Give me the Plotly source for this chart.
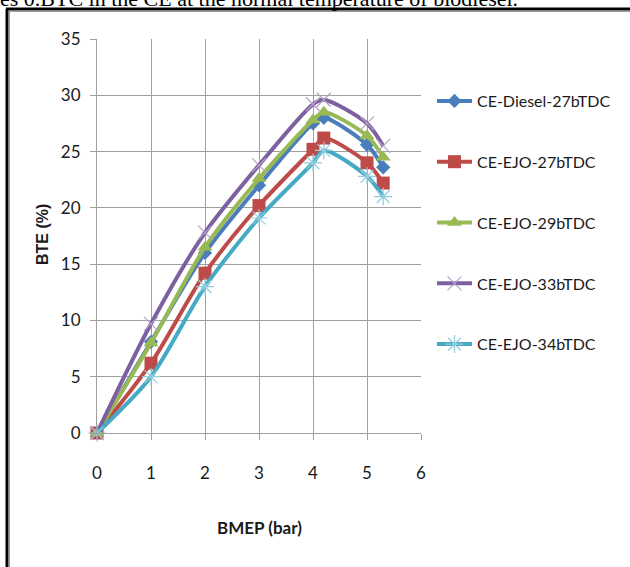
import plotly.graph_objects as go

# Data
bmep = [0, 1, 2, 3, 4, 4.2, 5, 5.3]
diesel_27 = [0, 8.1, 16.0, 22.0, 27.5, 28.0, 25.6, 23.6]
ejo_27 = [0, 6.2, 14.2, 20.2, 25.2, 26.2, 24.0, 22.2]
ejo_29 = [0, 8.0, 16.5, 22.6, 27.8, 28.5, 26.4, 24.5]
ejo_33 = [0, 9.7, 17.8, 23.8, 29.2, 29.6, 27.5, 25.5]
ejo_34 = [0, 5.0, 13.0, 19.1, 24.0, 25.1, 22.8, 21.0]

names = ["CE-Diesel-27bTDC", "CE-EJO-27bTDC", "CE-EJO-29bTDC",
         "CE-EJO-33bTDC", "CE-EJO-34bTDC"]
series = [diesel_27, ejo_27, ejo_29, ejo_33, ejo_34]
x_ticks = [0, 1, 2, 3, 4, 5, 6]
y_ticks = [0, 5, 10, 15, 20, 25, 30, 35]

line_colors = ["#4A7EBB", "#BE4B48", "#98B954", "#7D60A0", "#46AAC5"]
marker_styles = [
    dict(symbol="diamond", size=11, color="#4A7EBB"),
    dict(symbol="square", size=13, color="#BE4B48"),
    dict(symbol="triangle-up", size=13, color="#98B954"),
    dict(symbol="x-thin-open", size=14, color="#B3A2C7", line=dict(width=1.2, color="#A08BC0")),
    dict(symbol="asterisk-open", size=15, color="#93CDDD", line=dict(width=1.2, color="#7CC3D8")),
]

W, H = 630, 567
L, R, T, B = 97, 209, 39, 134
PW, PH = W - L - R, H - T - B


def px_x(p):
    return (p - L) / PW


def px_y(p):
    return (H - B - p) / PH


fig = go.Figure()
for i, (nm, ys) in enumerate(zip(names, series)):
    fig.add_trace(go.Scatter(
        x=bmep, y=ys, name=nm, mode="lines+markers",
        line=dict(color=line_colors[i], width=4, shape="spline", smoothing=0.8),
        marker=marker_styles[i], cliponaxis=False, legendgroup=nm,
    ))

font_narrow = "Lato, Liberation Sans, sans-serif"

fig.update_layout(
    width=W, height=H,
    margin=dict(l=L, r=R, t=T, b=B, autoexpand=False),
    paper_bgcolor="white", plot_bgcolor="white",
    font=dict(family=font_narrow, size=17, color="#1a1a1a"),
    showlegend=True,
    legend=dict(
        x=px_x(432), y=px_y(84), xanchor="left", yanchor="top",
        traceorder="grouped", tracegroupgap=37,
        font=dict(family=font_narrow, size=16, color="#1a1a1a"),
        bgcolor="rgba(0,0,0,0)", itemwidth=35,
    ),
    xaxis=dict(
        range=[0, 6], tickvals=x_ticks, showgrid=True, gridcolor="#A0A0A0", gridwidth=1,
        showline=True, linecolor="#A0A0A0", linewidth=1, zeroline=False,
        ticks="outside", ticklen=6, tickcolor="#A0A0A0",
        ticklabelstandoff=19, tickfont=dict(size=17, family=font_narrow),
        mirror=False,
    ),
    yaxis=dict(
        range=[0, 35], tickvals=y_ticks, showgrid=True, gridcolor="#A0A0A0", gridwidth=1,
        showline=True, linecolor="#A0A0A0", linewidth=1, zeroline=False,
        ticks="outside", ticklen=6, tickcolor="#A0A0A0",
        ticklabelstandoff=6, tickfont=dict(size=17, family=font_narrow),
    ),
    annotations=[
        dict(text="<b>BMEP (bar)</b>", xref="paper", yref="paper",
             x=px_x(259), y=px_y(527), xanchor="center", yanchor="middle",
             showarrow=False, font=dict(size=17, family=font_narrow, color="#1a1a1a")),
        dict(text="<b>BTE (%)</b>", xref="paper", yref="paper",
             x=px_x(42), y=px_y(235), xanchor="center", yanchor="middle", textangle=-90,
             showarrow=False, font=dict(size=16, family="Liberation Sans, Arial, sans-serif", color="#1a1a1a")),
        dict(text="es 0.BTC in the CE at the normal temperature of biodiesel.",
             xref="paper", yref="paper", x=px_x(-2), y=px_y(-2), xanchor="left", yanchor="middle",
             showarrow=False, font=dict(size=22, family="Liberation Serif, Times New Roman, serif", color="#000")),
    ],
    shapes=[
        dict(type="line", xref="paper", yref="paper", x0=px_x(7), x1=px_x(7), y0=px_y(9), y1=px_y(600),
             line=dict(color="#000", width=3)),
        dict(type="line", xref="paper", yref="paper", x0=px_x(6), x1=px_x(640), y0=px_y(9), y1=px_y(9),
             line=dict(color="#000", width=3)),
        dict(type="line", xref="paper", yref="paper", x0=px_x(9.5), x1=px_x(9.5), y0=px_y(11), y1=px_y(600),
             line=dict(color="#9a9a9a", width=1)),
        dict(type="line", xref="paper", yref="paper", x0=px_x(9.5), x1=px_x(640), y0=px_y(11.5), y1=px_y(11.5),
             line=dict(color="#9a9a9a", width=1)),
    ],
)

fig.write_html("out.html")
